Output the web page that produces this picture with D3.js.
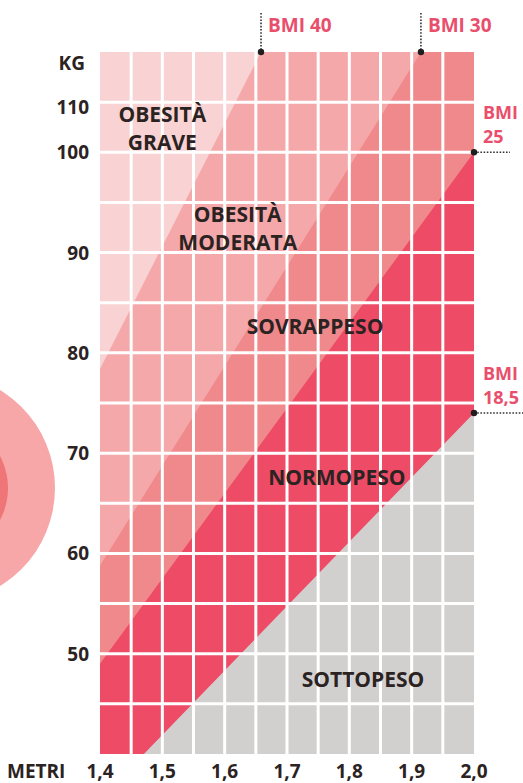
<!DOCTYPE html>
<html>
<head>
<meta charset="utf-8">
<script src="https://cdn.jsdelivr.net/npm/d3@7"></script>
<style>
    body { margin: 0; background: #fff; }
    svg { display: block; font-family: "Open Sans", sans-serif; font-weight: 700; }
</style>
</head>
<body>
<svg id="bmi" width="523" height="783"></svg>
<script>
// grid columns (metri) and rows (kg)
const heights = [1.40, 1.45, 1.50, 1.55, 1.60, 1.65, 1.70, 1.75, 1.80, 1.85, 1.90, 1.95, 2.00];
const weights = [40, 45, 50, 55, 60, 65, 70, 75, 80, 85, 90, 95, 100, 105, 110];

const xTicks = [1.4, 1.5, 1.6, 1.7, 1.8, 1.9, 2.0];
const xTickLabels = ["1,4", "1,5", "1,6", "1,7", "1,8", "1,9", "2,0"];
const yTicks = [50, 60, 70, 80, 90, 100, 110];

// BMI thresholds, from top-left band down
const bmiLimits = [40, 30, 25, 18.5];
const bmiLabels = ["BMI 40", "BMI 30", "BMI 25", "BMI 18,5"];
const bandColors = ["#f9d3d3", "#f5a8aa", "#f0898c", "#ed4b66", "#d2d0cf"];
const categories = [["OBESITÀ", "GRAVE"], ["OBESITÀ", "MODERATA"], ["SOVRAPPESO"], ["NORMOPESO"], ["SOTTOPESO"]];

// where each category name sits (metri, kg of first baseline)
const catAnchor = [[1.50, 103], [1.621, 93], [1.745, 81.9], [1.78, 66.8], [1.822, 46.7]];

const textDark = "#2b2322";
const textPink = "#e94f6c";

const hMin = 1.4, hMax = 2.0, wMin = 40, wMax = 110;

var svg = d3.select("#bmi");

var x = d3.scaleLinear().domain([hMin, hMax]).range([100, 474]);
var y = d3.scaleLinear().domain([wMin, wMax]).range([754, 52]);

// big decorative circle on the left
svg.append("circle").attr("cx", -60).attr("cy", 488).attr("r", 115).attr("fill", "#f7a7a7");
svg.append("circle").attr("cx", -60).attr("cy", 488).attr("r", 68).attr("fill", "#ef7577");

svg.append("clipPath").attr("id", "gridclip")
    .append("rect")
    .attr("x", x(hMin)).attr("y", y(wMax))
    .attr("width", x(hMax) - x(hMin)).attr("height", y(wMin) - y(wMax));

var bands = svg.append("g").attr("clip-path", "url(#gridclip)");

bands.append("rect")
    .attr("x", x(hMin)).attr("y", y(wMax))
    .attr("width", x(hMax) - x(hMin)).attr("height", y(wMin) - y(wMax))
    .attr("fill", bandColors[0]);

// where a BMI line enters (left or bottom) and leaves (top or right) the grid
function edgePoints(b) {
    var a = b * hMin * hMin < wMin ? [Math.sqrt(wMin / b), wMin] : [hMin, b * hMin * hMin];
    var z = b * hMax * hMax > wMax ? [Math.sqrt(wMax / b), wMax] : [hMax, b * hMax * hMax];
    return [a, z];
}

bmiLimits.forEach(function(b, i) {
    var p = edgePoints(b);
    var k = (p[1][1] - p[0][1]) / (p[1][0] - p[0][0]);
    // the printed chart draws each limit as a straight edge, extended past the grid
    var ends = [hMin - 0.2, hMax + 0.2].map(function(h) { return [h, p[0][1] + k * (h - p[0][0])]; });
    var area = d3.area()
        .x(function(d) { return x(d[0]); })
        .y0(y(wMin - 10))
        .y1(function(d) { return y(d[1]); });
    bands.append("path")
        .attr("d", area(ends))
        .attr("fill", bandColors[i + 1]);
});

// white grid
var grid = svg.append("g").attr("stroke", "#fff").attr("stroke-width", 3);
grid.selectAll("line.v")
    .data(heights.slice(1, -1))
    .enter()
    .append("line")
    .attr("class", "v")
    .attr("x1", function(d) { return x(d); })
    .attr("x2", function(d) { return x(d); })
    .attr("y1", y(wMax)).attr("y2", y(wMin));
grid.selectAll("line.h")
    .data(weights.slice(1, -1))
    .enter()
    .append("line")
    .attr("class", "h")
    .attr("y1", function(d) { return y(d); })
    .attr("y2", function(d) { return y(d); })
    .attr("x1", x(hMin)).attr("x2", x(hMax));

// category names
categories.forEach(function(lines, i) {
    var t = svg.append("text")
        .attr("text-anchor", "middle")
        .attr("font-size", 21)
        .attr("fill", textDark)
        .attr("x", x(catAnchor[i][0]))
        .attr("y", y(catAnchor[i][1]));
    lines.forEach(function(l, j) {
        t.append("tspan")
            .attr("x", x(catAnchor[i][0]))
            .attr("dy", j == 0 ? 0 : 28)
            .text(l);
    });
});

// y axis labels
svg.append("text").attr("x", 85).attr("y", y(wMax) + 18)
    .attr("text-anchor", "end").attr("font-size", 19).attr("fill", textDark)
    .text("KG");
svg.selectAll("text.ytick")
    .data(yTicks)
    .enter()
    .append("text")
    .attr("class", "ytick")
    .attr("x", 89)
    .attr("y", function(d) {
        // top label drops half a row to make room for "KG"
        return d == 110 ? y(105) + 12 : y(d) + 7;
    })
    .attr("text-anchor", "end")
    .attr("font-size", 19)
    .attr("fill", textDark)
    .text(function(d) { return d; });

// x axis labels
svg.append("text").attr("x", 7).attr("y", 778)
    .attr("font-size", 19).attr("fill", textDark)
    .text("METRI");
svg.selectAll("text.xtick")
    .data(xTicks)
    .enter()
    .append("text")
    .attr("class", "xtick")
    .attr("x", function(d) { return x(d); })
    .attr("y", 778)
    .attr("text-anchor", "middle")
    .attr("font-size", 19)
    .attr("fill", textDark)
    .text(function(d, i) { return xTickLabels[i]; });

// BMI markers
var marks = svg.append("g");
bmiLimits.forEach(function(b, i) {
    var end = edgePoints(b)[1];
    var px = x(end[0]), py = y(end[1]);
    if (end[1] >= wMax) {
        // line leaves the grid through the top
        marks.append("line")
            .attr("x1", px).attr("x2", px).attr("y1", 13).attr("y2", py)
            .attr("stroke", "#333").attr("stroke-width", 1.6).attr("stroke-dasharray", "1.6,1.6");
        marks.append("text").attr("x", px + 7).attr("y", 32)
            .attr("font-size", 19).attr("fill", textPink)
            .text(bmiLabels[i]);
    } else {
        marks.append("line")
            .attr("x1", px).attr("x2", px + 36 + (b < 20 ? 20 : 0)).attr("y1", py).attr("y2", py)
            .attr("stroke", "#333").attr("stroke-width", 1.6).attr("stroke-dasharray", "1.6,1.6");
        var parts = bmiLabels[i].split(" ");
        marks.append("text").attr("font-size", 18).attr("fill", textPink)
            .attr("x", px + 9).attr("y", py - 33).text(parts[0]);
        marks.append("text").attr("font-size", 18).attr("fill", textPink)
            .attr("x", px + 9).attr("y", py - 9).text(parts[1]);
    }
    marks.append("circle").attr("cx", px).attr("cy", py).attr("r", 3.2).attr("fill", "#1e1e1e");
});
</script>
</body>
</html>
